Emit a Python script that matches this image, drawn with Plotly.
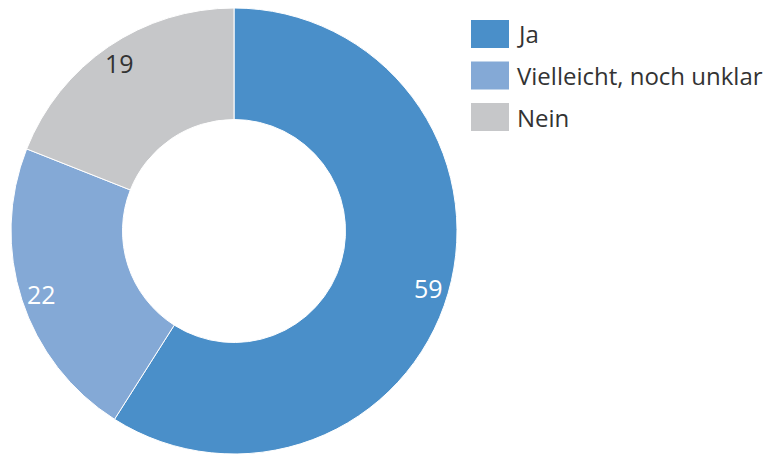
import math
import plotly.graph_objects as go

labels = ["Ja", "Vielleicht, noch unklar", "Nein"]
values = [59, 22, 19]
colors = ["#4a8fc9", "#84a9d6", "#c6c7c9"]
text_colors = ["#ffffff", "#ffffff", "#333333"]

OFF = 8  # page body margin offset in the browser
W, H = 774 - OFF, 455 - OFF
FONT = "Open Sans"


def px2x(px):
    return (px - OFF) / W


def py2y(py):
    return 1 - (py - OFF) / H


# pie geometry (window pixels)
dom_x = (11, 457)
dom_y = (8, 454)
cx = (dom_x[0] + dom_x[1]) / 2
cy = (dom_y[0] + dom_y[1]) / 2
R = min(dom_x[1] - dom_x[0], dom_y[1] - dom_y[0]) / 2
label_r = 0.91 * R

fig = go.Figure(go.Pie(
    labels=labels,
    values=values,
    hole=0.5,
    sort=False,
    direction="clockwise",
    rotation=0,
    marker=dict(colors=colors, line=dict(color="#ffffff", width=1)),
    textinfo="none",
    showlegend=False,
    domain=dict(x=[px2x(dom_x[0]), px2x(dom_x[1])], y=[max(0, py2y(dom_y[1])), py2y(dom_y[0])]),
))

# value labels near the outer edge, from data angles
total = sum(values)
cum = 0
annotations = []
for v, tc in zip(values, text_colors):
    mid = (cum + v / 2) / total * 2 * math.pi
    cum += v
    px = cx + label_r * math.sin(mid)
    py = cy - label_r * math.cos(mid)
    annotations.append(dict(
        x=px2x(px), y=py2y(py), xref="paper", yref="paper",
        text=str(v), showarrow=False, xanchor="center", yanchor="middle",
        font=dict(family=FONT, size=25, color=tc),
    ))

# custom legend
shapes = []
leg_x0, leg_x1 = 471, 509
leg_y0, leg_step, sw_h = 34, 41.5, 28
for i, (lab, col) in enumerate(zip(labels, colors)):
    yc = leg_y0 + i * leg_step
    shapes.append(dict(
        type="rect", xref="paper", yref="paper",
        x0=px2x(leg_x0), x1=px2x(leg_x1),
        y0=py2y(yc + sw_h / 2), y1=py2y(yc - sw_h / 2),
        fillcolor=col, line=dict(width=0),
    ))
    annotations.append(dict(
        x=px2x(515), y=py2y(yc), xref="paper", yref="paper",
        text=lab, showarrow=False, xanchor="left", yanchor="middle",
        font=dict(family=FONT, size=24, color="#333333"),
    ))

fig.update_layout(
    width=W, height=H,
    margin=dict(l=0, r=0, t=0, b=0),
    paper_bgcolor="#ffffff",
    plot_bgcolor="#ffffff",
    annotations=annotations,
    shapes=shapes,
)

fig.write_html("out.html")
